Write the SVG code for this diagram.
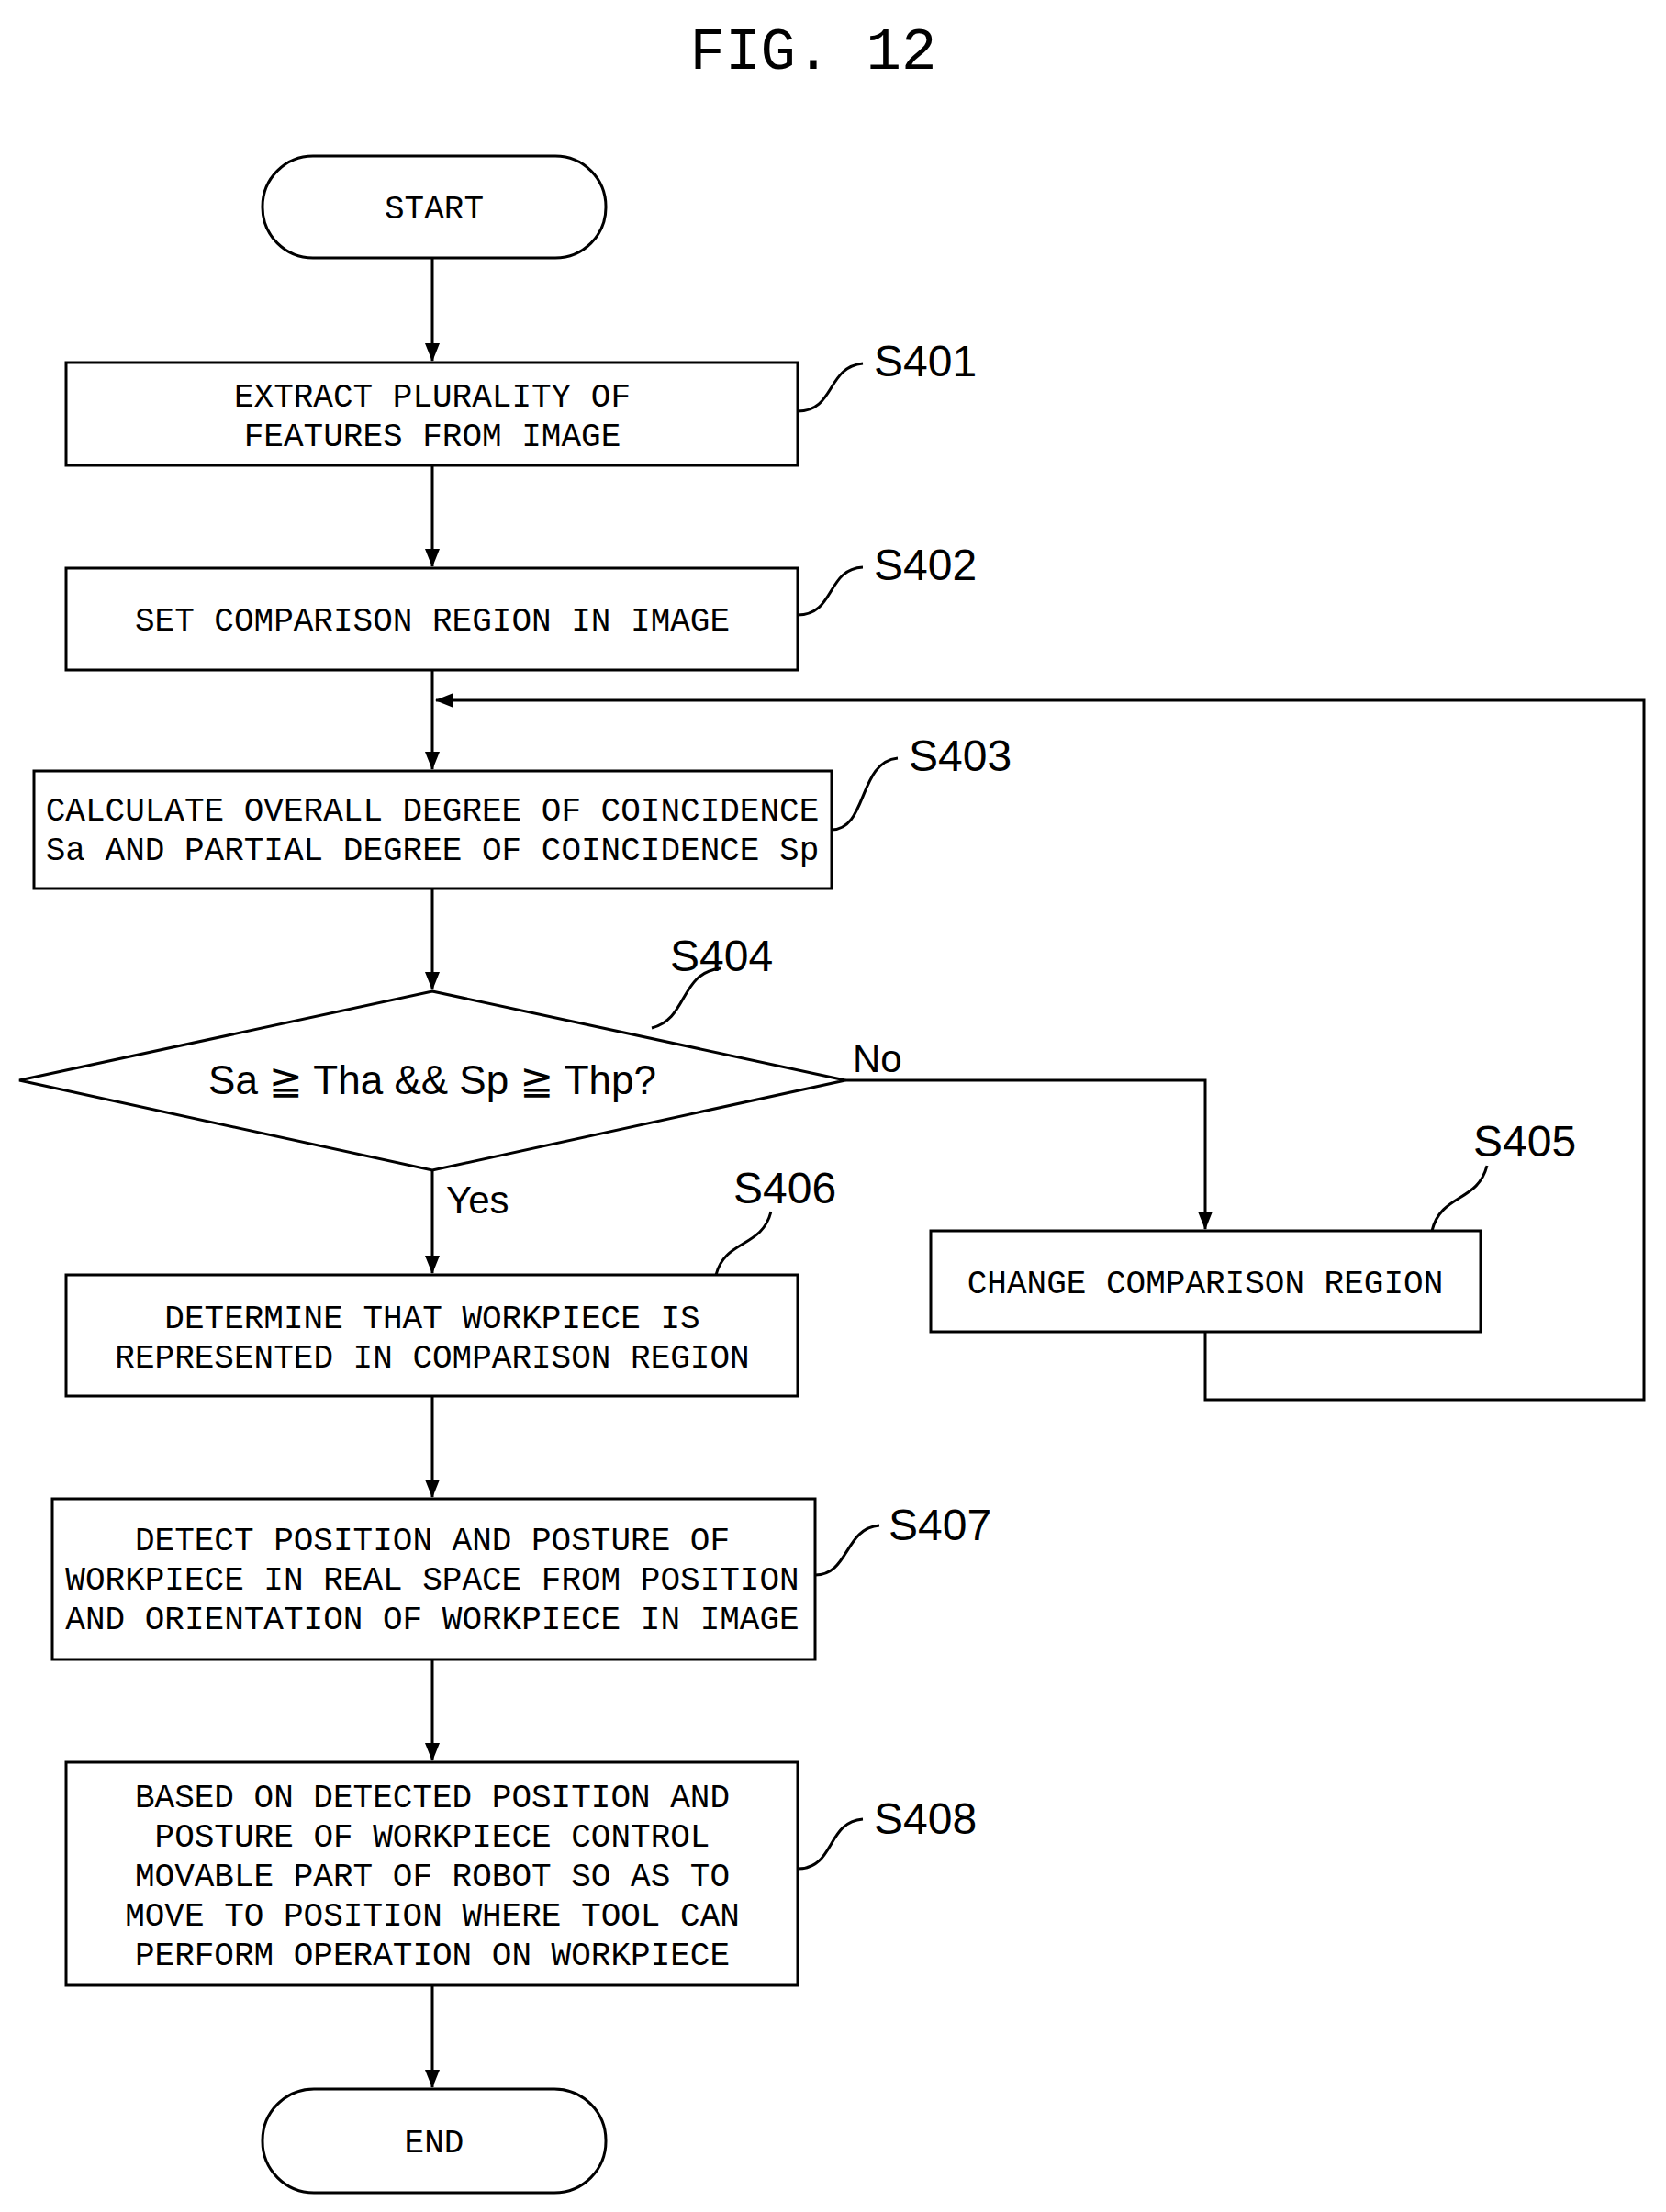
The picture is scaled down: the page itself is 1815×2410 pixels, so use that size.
<svg xmlns="http://www.w3.org/2000/svg" width="1815" height="2410" viewBox="0 0 1815 2410">
<style>
.b{fill:#fff;stroke:#000;stroke-width:3}
.t{font-family:"Liberation Mono",monospace;font-size:36px;text-anchor:middle;fill:#000}
.l{font-family:"Liberation Sans",Arial,sans-serif;font-size:48px;fill:#000}
.c{fill:none;stroke:#000;stroke-width:3}
</style>
<defs><marker id="a" markerWidth="10" markerHeight="10" refX="9" refY="5" orient="auto" markerUnits="userSpaceOnUse" viewBox="0 0 10 10"><path d="M0,0 L10,5 L0,10 z" fill="#000"/></marker>
<marker id="ah" viewBox="0 0 20 20" refX="19" refY="10" markerWidth="20" markerHeight="20" orient="auto" markerUnits="userSpaceOnUse"><path d="M0,2 L20,10 L0,18 z" fill="#000"/></marker></defs>
<text x="886" y="75" font-family="Liberation Mono,monospace" font-size="64" text-anchor="middle">FIG. 12</text>
<g id="edges">
<path class="c" d="M471,281 V393" marker-end="url(#ah)"/>
<path class="c" d="M471,507 V617" marker-end="url(#ah)"/>
<path class="c" d="M471,730 V838" marker-end="url(#ah)"/>
<path class="c" d="M471,968 V1078" marker-end="url(#ah)"/>
<path class="c" d="M471,1275 V1387" marker-end="url(#ah)"/>
<path class="c" d="M471,1521 V1631" marker-end="url(#ah)"/>
<path class="c" d="M471,1808 V1918" marker-end="url(#ah)"/>
<path class="c" d="M471,2163 V2274" marker-end="url(#ah)"/>
<path class="c" d="M921,1177 H1313 V1339" marker-end="url(#ah)"/>
<path class="c" d="M1313,1451 V1525 H1791 V763 H475" marker-end="url(#ah)"/>
<text x="929" y="1168" font-family="Liberation Sans,sans-serif" font-size="42">No</text>
<text x="486" y="1322" font-family="Liberation Sans,sans-serif" font-size="42">Yes</text>
</g>
<g id="start"><rect class="b" x="286" y="170" width="374" height="111" rx="55"/><text class="t" x="473" y="238">START</text></g>
<g id="s401"><rect class="b" x="72" y="395" width="797" height="112"/><text class="t" x="471" y="443">EXTRACT PLURALITY OF</text><text class="t" x="471" y="486">FEATURES FROM IMAGE</text>
<path class="c" d="M869,448 C910,448 900,400 940,396"/><text class="l" x="952" y="410">S401</text></g>
<g id="s402"><rect class="b" x="72" y="619" width="797" height="111"/><text class="t" x="471" y="687">SET COMPARISON REGION IN IMAGE</text>
<path class="c" d="M869,670 C910,670 900,620 940,618"/><text class="l" x="952" y="632">S402</text></g>
<g id="s403"><rect class="b" x="37" y="840" width="869" height="128"/><text class="t" x="471" y="894">CALCULATE OVERALL DEGREE OF COINCIDENCE</text><text class="t" x="471" y="937">Sa AND PARTIAL DEGREE OF COINCIDENCE Sp</text>
<path class="c" d="M906,904 C945,904 935,830 978,826"/><text class="l" x="990" y="840">S403</text></g>
<g id="s404"><path class="b" d="M471,1080 L921,1177 L471,1275 L21,1177 Z"/><text x="471" y="1192" font-family="Liberation Sans,'DejaVu Sans',sans-serif" font-size="44" text-anchor="middle">Sa ≧ Tha &amp;&amp; Sp ≧ Thp?</text>
<path class="c" d="M710,1120 C750,1110 740,1060 785,1055"/><text class="l" x="730" y="1058">S404</text></g>
<g id="s405"><rect class="b" x="1014" y="1341" width="599" height="110"/><text class="t" x="1313" y="1409">CHANGE COMPARISON REGION</text>
<path class="c" d="M1560,1341 C1570,1300 1610,1310 1620,1270"/><text class="l" x="1605" y="1260">S405</text></g>
<g id="s406"><rect class="b" x="72" y="1389" width="797" height="132"/><text class="t" x="471" y="1447">DETERMINE THAT WORKPIECE IS</text><text class="t" x="471" y="1490">REPRESENTED IN COMPARISON REGION</text>
<path class="c" d="M780,1389 C790,1350 830,1360 840,1320"/><text class="l" x="799" y="1311">S406</text></g>
<g id="s407"><rect class="b" x="57" y="1633" width="831" height="175"/><text class="t" x="471" y="1689">DETECT POSITION AND POSTURE OF</text><text class="t" x="471" y="1732">WORKPIECE IN REAL SPACE FROM POSITION</text><text class="t" x="471" y="1775">AND ORIENTATION OF WORKPIECE IN IMAGE</text>
<path class="c" d="M888,1716 C925,1716 920,1665 958,1662"/><text class="l" x="968" y="1678">S407</text></g>
<g id="s408"><rect class="b" x="72" y="1920" width="797" height="243"/><text class="t" x="471" y="1969">BASED ON DETECTED POSITION AND</text><text class="t" x="471" y="2012">POSTURE OF WORKPIECE CONTROL</text><text class="t" x="471" y="2055">MOVABLE PART OF ROBOT SO AS TO</text><text class="t" x="471" y="2098">MOVE TO POSITION WHERE TOOL CAN</text><text class="t" x="471" y="2141">PERFORM OPERATION ON WORKPIECE</text>
<path class="c" d="M869,2036 C910,2036 900,1985 940,1982"/><text class="l" x="952" y="1998">S408</text></g>
<g id="end"><rect class="b" x="286" y="2276" width="374" height="113" rx="56"/><text class="t" x="473" y="2345">END</text></g>
</svg>
